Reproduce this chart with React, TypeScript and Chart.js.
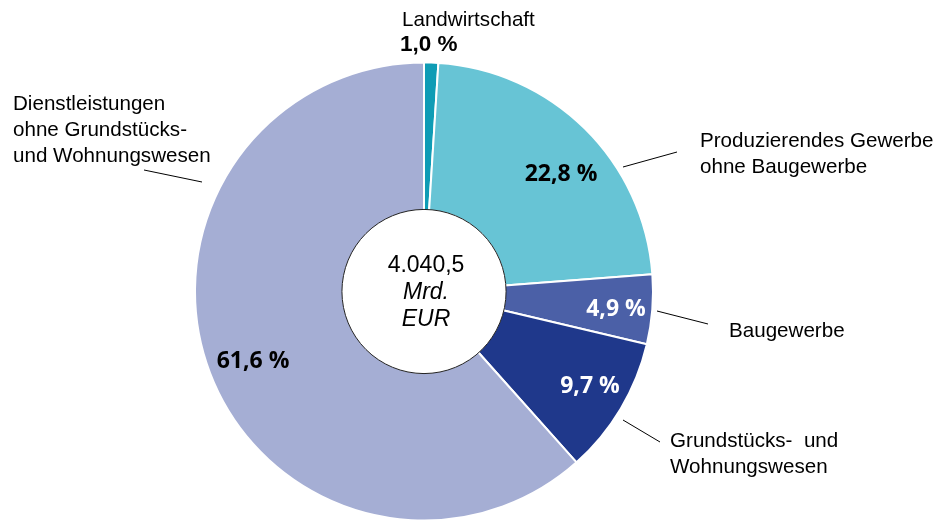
import React, { useEffect, useRef } from "react";
import { Chart, registerables } from "chart.js";

Chart.register(...registerables);

const categories = [
  "Landwirtschaft",
  "Produzierendes Gewerbe ohne Baugewerbe",
  "Baugewerbe",
  "Grundstücks- und Wohnungswesen",
  "Dienstleistungen ohne Grundstücks- und Wohnungswesen",
];
const shares = [1.0, 22.8, 4.9, 9.7, 61.6];
const shareLabels = ["1,0 %", "22,8 %", "4,9 %", "9,7 %", "61,6 %"];
const centerLines = ["4.040,5", "Mrd.", "EUR"];
const colors = ["#0f9cb5", "#67c4d5", "#4b60a7", "#1f388b", "#a5aed4"];

const SANS = "'Liberation Sans', Arial, sans-serif";

// annotation layout (text lines, positions of text and leader lines)
const labelLayout = [
  { lines: ["Landwirtschaft"], x: 402, y: 20, pct: { x: 400, y: 45, align: "left", color: "#000", font: "bold 22.5px " + SANS }, line: null },
  { lines: ["Produzierendes Gewerbe", "ohne Baugewerbe"], x: 700, y: 141, pct: { x: 561, y: 174, align: "center", color: "#000" }, line: [623, 167, 677, 152] },
  { lines: ["Baugewerbe"], x: 729, y: 331, pct: { x: 616, y: 309, align: "center", color: "#fff" }, line: [657, 311, 708, 324] },
  { lines: ["Grundstücks-  und", "Wohnungswesen"], x: 670, y: 441, pct: { x: 590, y: 386, align: "center", color: "#fff" }, line: [623, 420, 660, 442] },
  { lines: ["Dienstleistungen", "ohne Grundstücks-", "und Wohnungswesen"], x: 13, y: 104, pct: { x: 253, y: 361, align: "center", color: "#000" }, line: [144, 170, 202, 182] },
];

const labelPlugin = {
  id: "labels",
  afterDatasetsDraw(chart: any) {
    const ctx = chart.ctx as CanvasRenderingContext2D;
    const arc = chart.getDatasetMeta(0).data[0];
    const cx = arc.x;
    const cy = arc.y;
    const r = arc.innerRadius;
    ctx.save();
    // centre circle
    ctx.beginPath();
    ctx.arc(cx, cy, r + 1, 0, Math.PI * 2);
    ctx.fillStyle = "#fff";
    ctx.fill();
    ctx.lineWidth = 1;
    ctx.strokeStyle = "#222";
    ctx.stroke();
    ctx.fillStyle = "#000";
    ctx.textAlign = "center";
    ctx.textBaseline = "middle";
    centerLines.forEach((t, i) => {
      ctx.font = (i === 0 ? "" : "italic ") + "23px " + SANS;
      ctx.fillText(t, cx + 2, cy - 26 + i * 27);
    });
    // labels
    labelLayout.forEach((l, i) => {
      ctx.font = "20.6px " + SANS;
      ctx.fillStyle = "#000";
      ctx.textAlign = "left";
      l.lines.forEach((t, j) => ctx.fillText(t, l.x, l.y + j * 26));
      if (l.line) {
        ctx.beginPath();
        ctx.moveTo(l.line[0], l.line[1]);
        ctx.lineTo(l.line[2], l.line[3]);
        ctx.lineWidth = 1;
        ctx.strokeStyle = "#000";
        ctx.stroke();
      }
      const p: any = l.pct;
      ctx.font = p.font || "bold 23px 'Open Sans', sans-serif";
      ctx.fillStyle = p.color;
      ctx.textAlign = p.align;
      ctx.fillText(shareLabels[i], p.x, p.y);
    });
    ctx.restore();
  },
};

export default function App() {
  const ref = useRef<HTMLCanvasElement>(null);
  useEffect(() => {
    if (!ref.current) return;
    const chart = new Chart(ref.current, {
      type: "doughnut",
      data: {
        labels: categories,
        datasets: [
          {
            data: shares,
            backgroundColor: colors,
            borderColor: "#fff",
            borderWidth: 2,
          },
        ],
      },
      options: {
        responsive: false,
        animation: false,
        radius: 229,
        cutout: "35.4%",
        layout: { padding: { left: 195, right: 286, top: 63, bottom: 0 } },
        plugins: { legend: { display: false }, tooltip: { enabled: false } },
      },
      plugins: [labelPlugin],
    });
    return () => chart.destroy();
  }, []);
  return (
    <div style={{ position: "absolute", left: 0, top: 0, width: 939, height: 520, background: "#fff" }}>
      <canvas ref={ref} width={939} height={520} />
    </div>
  );
}
